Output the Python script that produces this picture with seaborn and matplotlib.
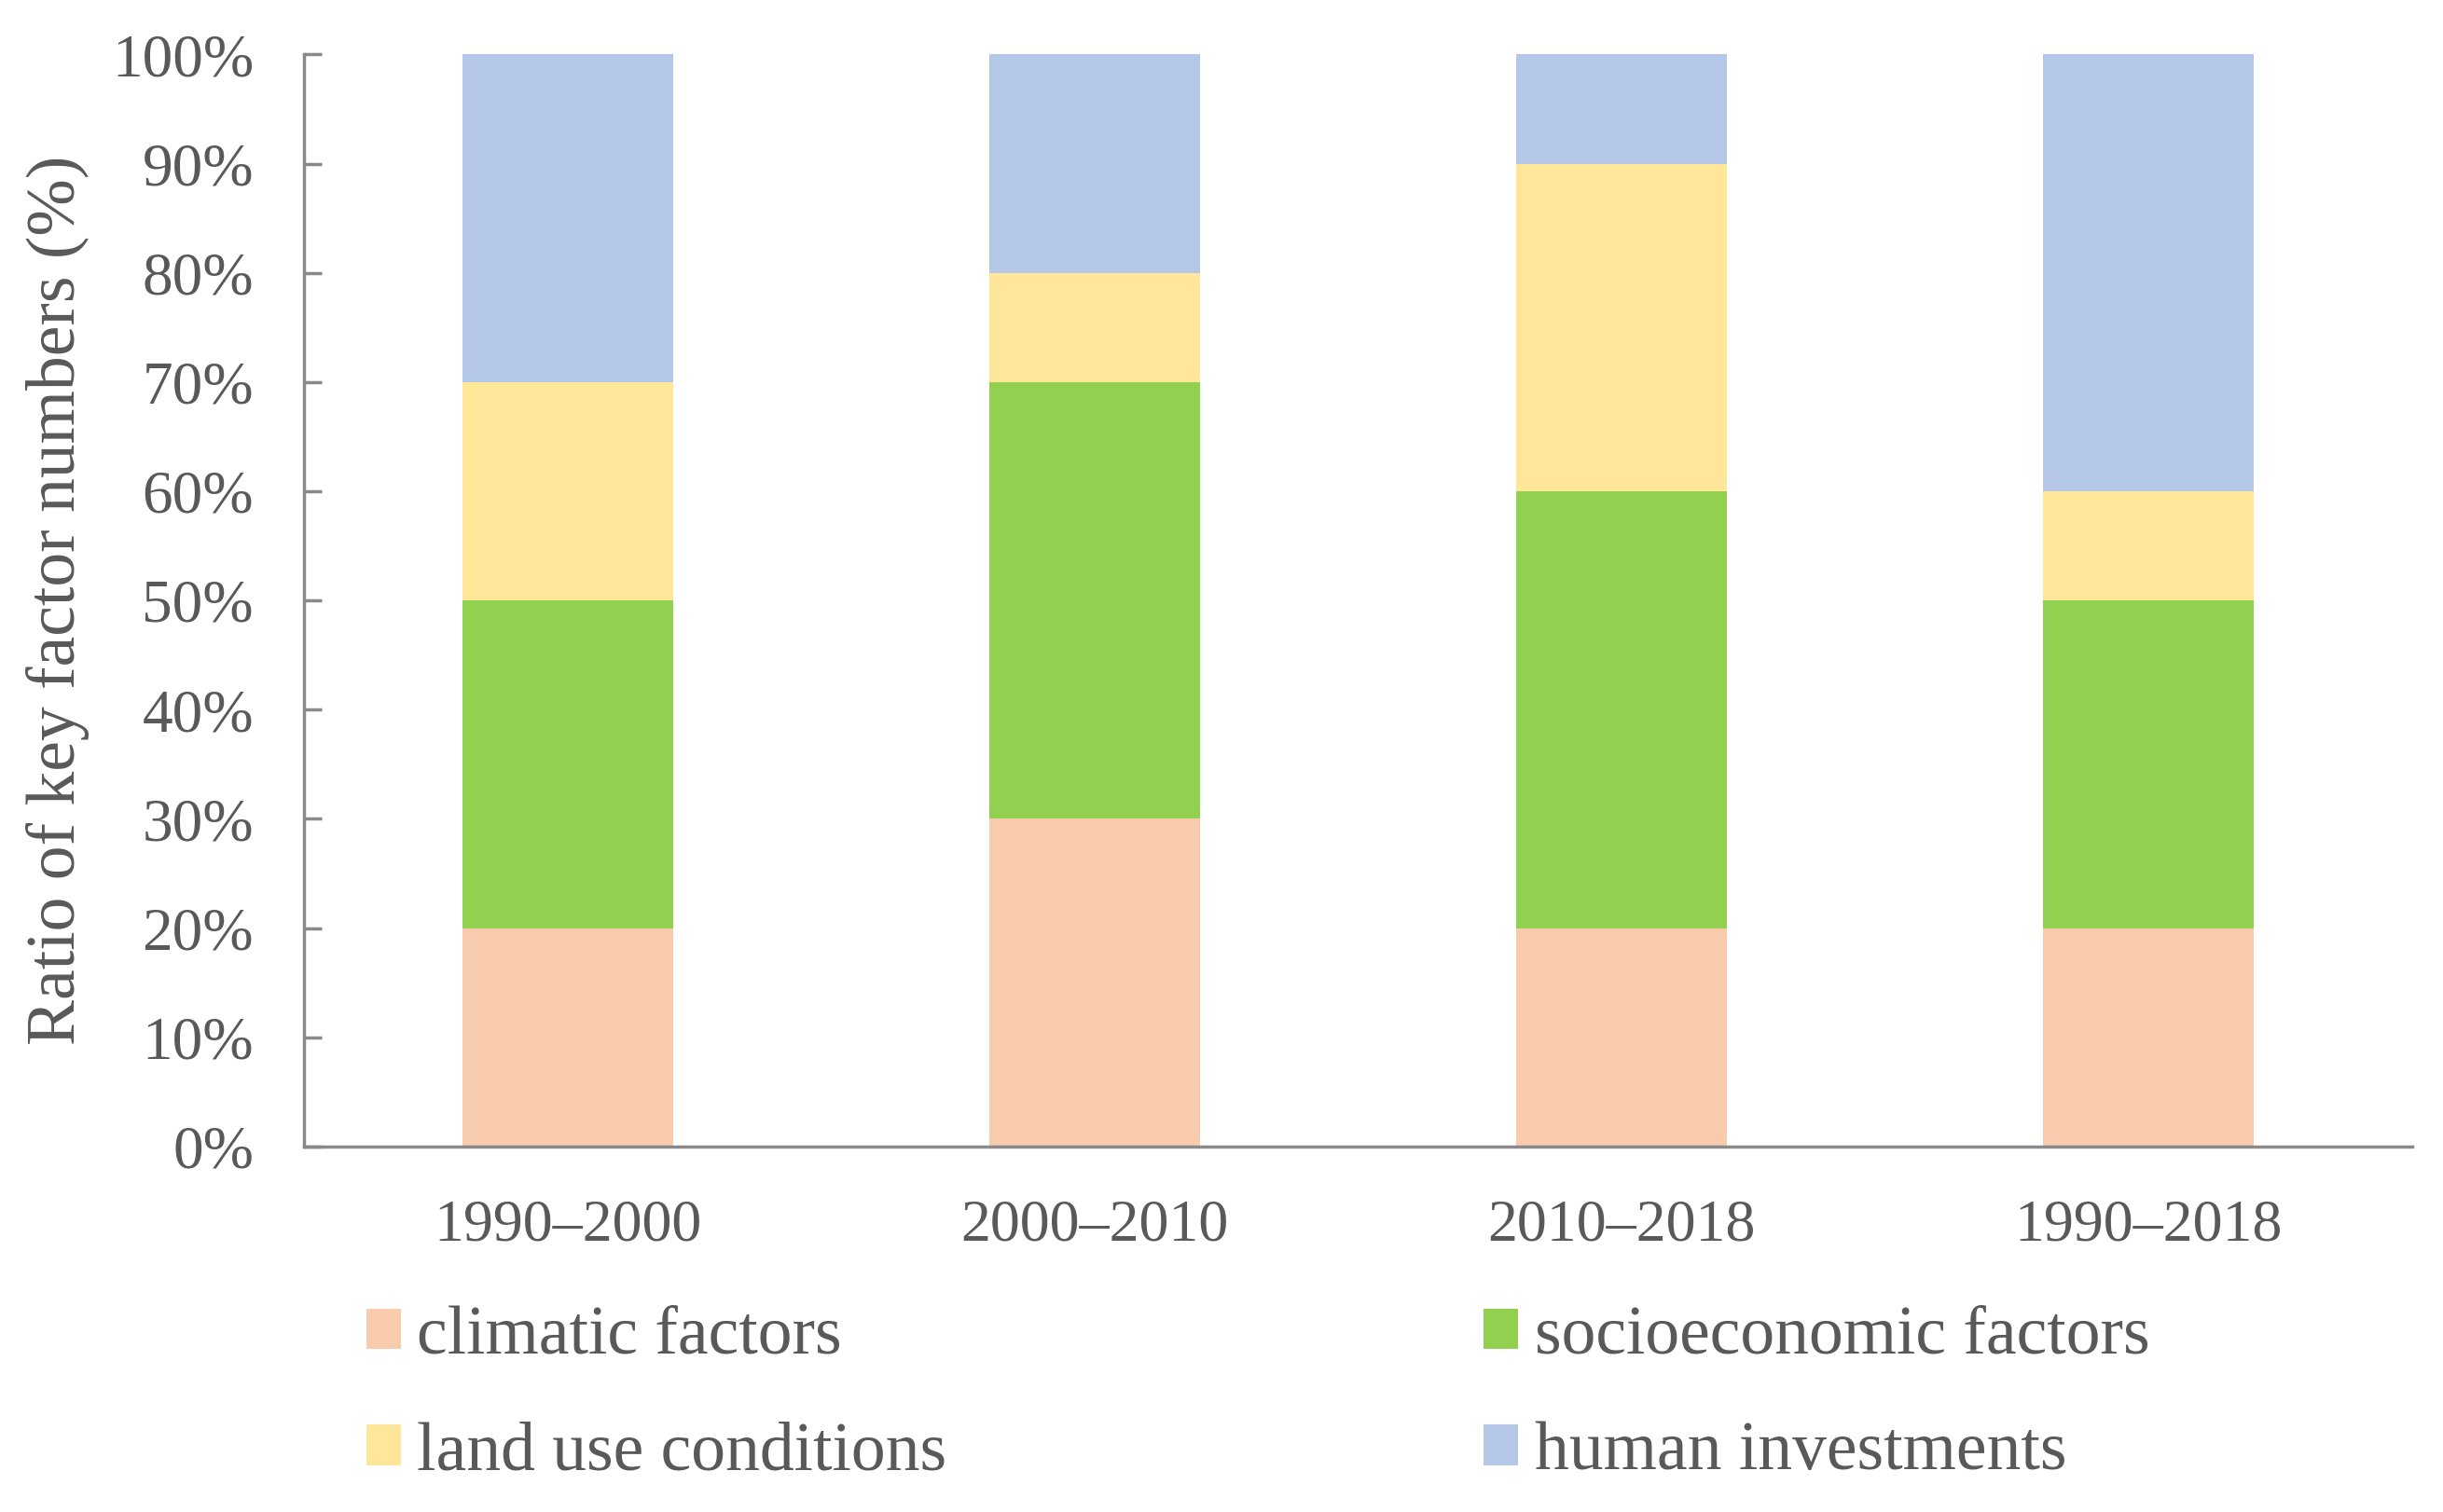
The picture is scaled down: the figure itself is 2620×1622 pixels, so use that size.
import matplotlib
matplotlib.use("Agg")
import matplotlib.pyplot as plt
import seaborn as sns
import pandas as pd
import numpy as np
from matplotlib.patches import Patch

periods = ["1990–2000", "2000–2010", "2010–2018", "1990–2018"]
climatic = [20, 30, 20, 20]
socioeconomic = [30, 40, 40, 30]
land_use = [20, 10, 30, 10]
human = [30, 20, 10, 40]

series_names = ["climatic factors", "socioeconomic factors", "land use conditions", "human investments"]
series_vals = [climatic, socioeconomic, land_use, human]
colors = ["#F8CBAD", "#92D050", "#FFE699", "#B4C7E7"]

sns.set_theme(style="white")
plt.rcParams['font.family'] = ['Liberation Serif', 'DejaVu Serif']

text_col = "#595959"
axis_col = "#898989"

fig = plt.figure(figsize=(26.2, 16.22), dpi=100)
ax = fig.add_axes([0.1245, 0.2417, 0.8629, 0.7223])

cum = np.cumsum(np.array(series_vals), axis=0)
# draw from top layer to bottom so lower layers overlay
for i in range(len(series_names) - 1, -1, -1):
    df = pd.DataFrame({"period": periods, "value": cum[i]})
    sns.barplot(data=df, x="period", y="value", color=colors[i], width=0.4,
                saturation=1, ax=ax, linewidth=0, edgecolor=colors[i])

ax.set_xlim(-0.5, 3.5)
ax.set_ylim(0, 100)
ax.set_yticks(np.arange(0, 101, 10))
ax.set_yticklabels([f"{v}%" for v in range(0, 101, 10)])
ax.set_xlabel("")
ax.set_ylabel("Ratio of key factor numbers (%)", fontsize=53, color=text_col)
ax.yaxis.set_label_coords(-0.102, 0.5)

for s in ["top", "right"]:
    ax.spines[s].set_visible(False)
for s in ["left", "bottom"]:
    ax.spines[s].set_color(axis_col)
    ax.spines[s].set_linewidth(2.5)

ax.tick_params(axis="y", direction="in", length=14, width=2.5, color=axis_col,
               labelsize=47, labelcolor=text_col, pad=39, left=True)
ax.tick_params(axis="x", length=0, labelsize=46, labelcolor=text_col, pad=40.5, bottom=False)

handles = [Patch(facecolor=colors[0], edgecolor="none"),
           Patch(facecolor=colors[2], edgecolor="none"),
           Patch(facecolor=colors[1], edgecolor="none"),
           Patch(facecolor=colors[3], edgecolor="none")]
labels = [series_names[0], series_names[2], series_names[1], series_names[3]]
leg = fig.legend(handles, labels, loc="upper left", bbox_to_anchor=(0.150, 0.137),
                 ncol=2, frameon=False, fontsize=53, handlelength=0.5, handleheight=0.53,
                 handletextpad=0.24, columnspacing=7.82, labelspacing=0.78, borderpad=0,
                 borderaxespad=0)
for t in leg.get_texts():
    t.set_color(text_col)

fig.savefig("out.png", dpi=100)
